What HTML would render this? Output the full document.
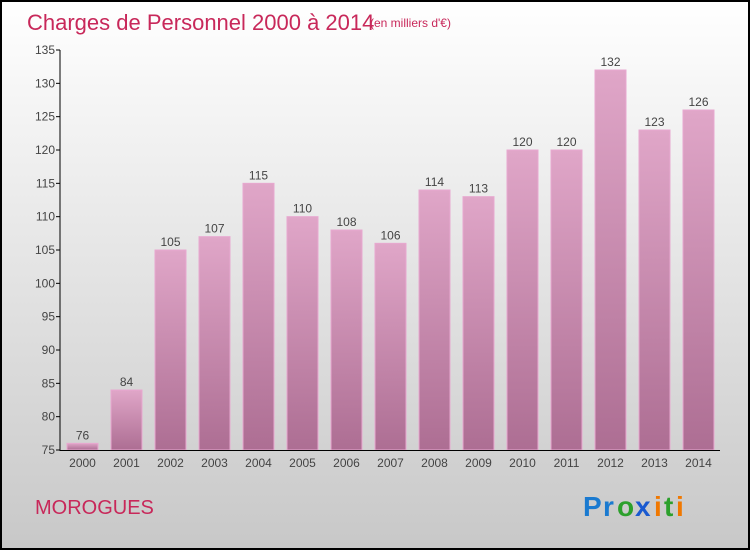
<!DOCTYPE html>
<html><head><meta charset="utf-8"><style>
html,body{margin:0;padding:0}
body{width:750px;height:550px;overflow:hidden;font-family:"Liberation Sans",sans-serif}
</style></head><body>
<svg width="750" height="550" xmlns="http://www.w3.org/2000/svg">
<defs>
<linearGradient id="bg" x1="0" y1="0" x2="0" y2="1"><stop offset="0" stop-color="#ffffff"/><stop offset="1" stop-color="#c8c8c8"/></linearGradient>
<linearGradient id="bar" x1="0" y1="0" x2="0" y2="1"><stop offset="0" stop-color="#e0a6c8"/><stop offset="1" stop-color="#ad6e93"/></linearGradient>
</defs>
<rect x="1" y="1" width="748" height="548" fill="url(#bg)" stroke="#000" stroke-width="2"/>
<text x="27" y="30" font-size="22" fill="#c8285a">Charges de Personnel 2000 à 2014</text>
<text x="370" y="27" font-size="12" fill="#c8285a">(en milliers d'€)</text>
<g id="plot"></g>
<text x="35" y="514" font-size="20" fill="#c8285a">MOROGUES</text>
<g font-size="28" font-weight="bold">
<text x="583" y="516" fill="#1a7ad0">P</text><text x="603" y="516" fill="#1a7ad0">r</text>
<text x="617" y="516" fill="#2ca02c">o</text><text x="635" y="516" fill="#1a5ad0">x</text>
<text x="654" y="516" fill="#f07800">i</text><text x="664" y="516" fill="#2ca02c">t</text><text x="676" y="516" fill="#f07800">i</text>
</g>
</svg>
<script>
const years=["2000","2001","2002","2003","2004","2005","2006","2007","2008","2009","2010","2011","2012","2013","2014"];
const values=[76,84,105,107,115,110,108,106,114,113,120,120,132,123,126];
const yTicks=[75,80,85,90,95,100,105,110,115,120,125,130,135];
const NS="http://www.w3.org/2000/svg";
const g=document.getElementById('plot');
const y=v=>450-(v-75)*400/60;
const x=i=>82.5+i*44;
function mk(t,a,txt){const e=document.createElementNS(NS,t);for(const k in a)e.setAttribute(k,a[k]);if(txt!==undefined)e.textContent=txt;g.appendChild(e);return e;}
yTicks.forEach(v=>{
 const l=mk('line',{x1:56,x2:60,y1:y(v),y2:y(v),stroke:'#000'});
 
 
 const t=mk('text',{x:55,y:y(v)+4,'text-anchor':'end','font-size':12,fill:'#444'},v);
 
 
});
values.forEach((v,i)=>{
 const r=mk('rect',{x:x(i)-15.5,y:y(v),width:31,height:450-y(v),fill:'url(#bar)',stroke:'#e8a8d0','stroke-width':1});
 
 
 const t=mk('text',{x:x(i),y:y(v)-4,'text-anchor':'middle','font-size':12,fill:'#444'},v);
 
 
 const yl=mk('text',{x:x(i),y:467,'text-anchor':'middle','font-size':12,fill:'#444'},years[i]);
 
 
});
const ax=mk('line',{x1:60,x2:60,y1:50,y2:451,stroke:'#000'});


const bx=mk('line',{x1:60,x2:720,y1:450.5,y2:450.5,stroke:'#000'});


</script>
</body></html>
